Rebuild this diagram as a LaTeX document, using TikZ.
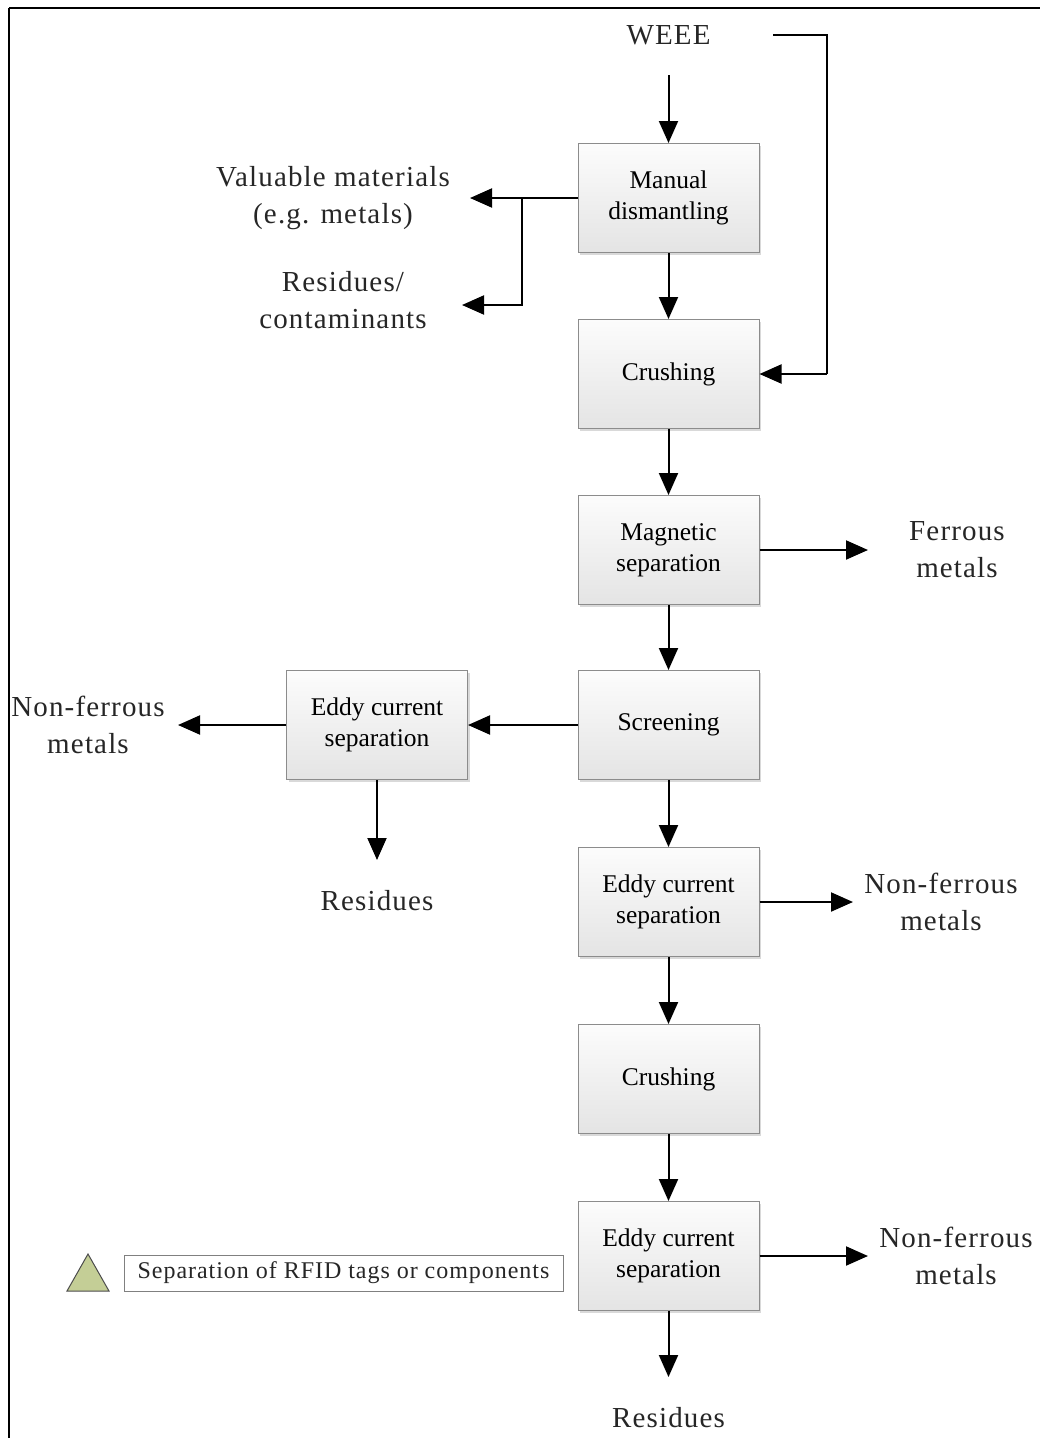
\documentclass[tikz,border=0pt]{standalone}
\usepackage{fontspec}
\setmainfont{Liberation Serif}
\newfontfamily\lblfont[LetterSpace=4]{Liberation Serif}
\usetikzlibrary{arrows.meta,shadows,shapes.geometric}
\definecolor{boxborder}{RGB}{140,140,140}
\definecolor{boxtop}{RGB}{252,252,252}
\definecolor{boxbot}{RGB}{228,228,228}
\definecolor{trifill}{RGB}{196,206,150}
\begin{document}
\begin{tikzpicture}[x=1pt,y=-1pt,
  procbox/.style={draw=boxborder,line width=1pt,minimum width=181pt,minimum height=109pt,
    top color=boxtop,bottom color=boxbot,align=center,font=\fontsize{25.5}{31}\selectfont,
    drop shadow={shadow xshift=2pt,shadow yshift=-2pt,fill=black!25,opacity=0.6}},
  lbl/.style={align=center,font=\lblfont\fontsize{29}{37}\selectfont,text=black!85},
  flow/.style={line width=2pt,-{Triangle[length=22pt,width=19pt]}},
  line/.style={line width=2pt}]
\useasboundingbox (0,0) rectangle (1040,1438);
\draw[line width=2.5pt] (9,8) -- (1050,8);
\draw[line width=2.5pt] (9,8) -- (9,1450);

% main column
\node[procbox] (md) at (668.5,198) {Manual\\dismantling};
\node[procbox] (cr1) at (668.5,374) {Crushing};
\node[procbox] (mag) at (668.5,550) {Magnetic\\separation};
\node[procbox] (scr) at (668.5,725) {Screening};
\node[procbox] (ec1) at (668.5,902) {Eddy current\\separation};
\node[procbox] (cr2) at (668.5,1079) {Crushing};
\node[procbox] (ec2) at (668.5,1256) {Eddy current\\separation};
\node[procbox] (ecl) at (377,725) {Eddy current\\separation};

% labels
\node[lbl] (weee) at (668.5,35) {WEEE};
\node[lbl] (val) at (333,198) {Valuable materials\\(e.g. metals)};
\node[lbl] (res1) at (343,300) {Residues/\\contaminants};
\node[lbl] (fer) at (957,550) {Ferrous\\metals};
\node[lbl] (nfl) at (88,725) {Non-ferrous\\metals};
\node[lbl] (resl) at (377,901) {Residues};
\node[lbl] (nf1) at (941,902) {Non-ferrous\\metals};
\node[lbl] (nf2) at (956,1256) {Non-ferrous\\metals};
\node[lbl] (res2) at (668.5,1418) {Residues};

% coordinates
\coordinate (wtop) at (668.5,75);
\coordinate (fbs) at (773,35);
\coordinate (fbc) at (827,35);
\coordinate (fbd) at (827,374);
\coordinate (br) at (522,198);
\coordinate (brd) at (522,305);
\coordinate (valtip) at (470,198);
\coordinate (restip) at (462,305);
\coordinate (fertip) at (868,550);
\coordinate (nfltip) at (178,725);
\coordinate (resltip) at (377,860);
\coordinate (nf1tip) at (853,902);
\coordinate (nf2tip) at (868,1256);
\coordinate (res2tip) at (668.5,1377);

% connectors
\draw[flow] (wtop) -- (md.north);
\draw[line] (fbs) -- (fbc) -- (fbd);
\draw[flow] (fbd) -- (cr1.east);
\draw[flow] (md.west) -- (valtip);
\draw[flow] (br) -- (brd) -- (restip);
\draw[flow] (md.south) -- (cr1.north);
\draw[flow] (cr1.south) -- (mag.north);
\draw[flow] (mag.east) -- (fertip);
\draw[flow] (mag.south) -- (scr.north);
\draw[flow] (scr.west) -- (ecl.east);
\draw[flow] (ecl.west) -- (nfltip);
\draw[flow] (ecl.south) -- (resltip);
\draw[flow] (scr.south) -- (ec1.north);
\draw[flow] (ec1.east) -- (nf1tip);
\draw[flow] (ec1.south) -- (cr2.north);
\draw[flow] (cr2.south) -- (ec2.north);
\draw[flow] (ec2.east) -- (nf2tip);
\draw[flow] (ec2.south) -- (res2tip);

% legend
\path[draw=black!70,fill=trifill,line width=1pt] (67,1291) -- (109,1291) -- (88,1254) -- cycle;
\node[draw=black!50,line width=1pt,minimum width=439pt,minimum height=36pt,
  font=\lblfont\fontsize{24}{28}\selectfont,text=black!85] (leg) at (343.5,1273) {Separation of RFID tags or components};
\end{tikzpicture}
\end{document}
